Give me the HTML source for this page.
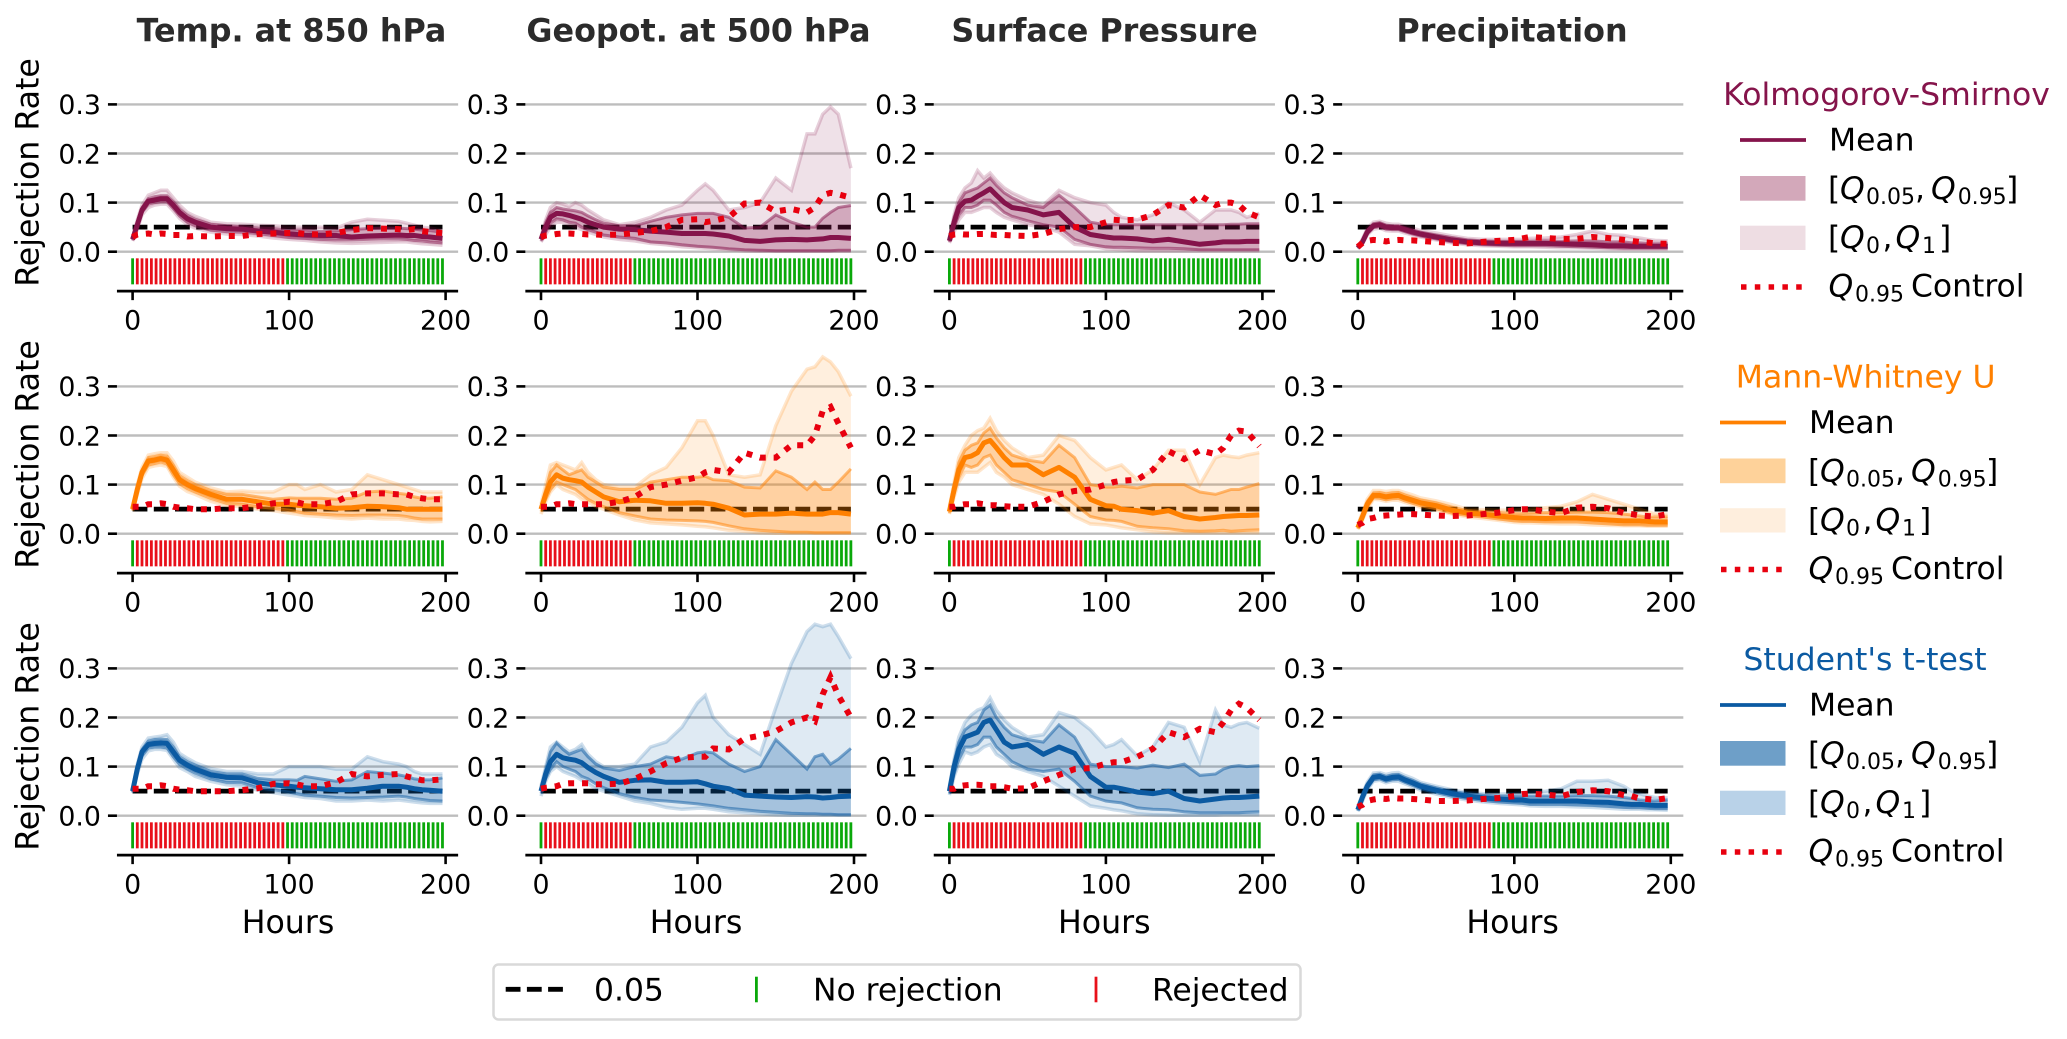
<!DOCTYPE html>
<html lang="en">
<head>
<meta charset="utf-8">
<title>Rejection rates by hour</title>
<style>
html,body{margin:0;padding:0;background:#fff;}
svg{display:block;}
text{font-family:"DejaVu Sans","Liberation Sans",sans-serif;fill:#000;}
.tick{font-size:26.8px;}
.axis-title{font-size:31.6px;text-anchor:middle;}
.col-title{font-size:31.8px;font-weight:bold;text-anchor:middle;fill:#2b2b2b;}
.lg-title{font-size:31.5px;text-anchor:middle;}
.lg{font-size:31.4px;}
.it{font-style:italic;}
.sub{font-size:22px;}
</style>
</head>
<body>
<svg id="chart" xmlns="http://www.w3.org/2000/svg" width="2067" height="1039" viewBox="0 0 2067 1039">
<rect x="0" y="0" width="2067" height="1039" fill="#fff"/>
<g id="plots"></g>

<text class="col-title" x="291.5" y="41.5">Temp. at 850 hPa</text>
<text class="col-title" x="698.5" y="41.5">Geopot. at 500 hPa</text>
<text class="col-title" x="1104.5" y="41.5">Surface Pressure</text>
<text class="col-title" x="1512" y="41.5">Precipitation</text>

<text class="axis-title" transform="translate(38.5 172.5) rotate(-90)">Rejection Rate</text>
<text class="axis-title" transform="translate(38.5 454.5) rotate(-90)">Rejection Rate</text>
<text class="axis-title" transform="translate(38.5 736.5) rotate(-90)">Rejection Rate</text>

<text class="axis-title" x="288" y="933">Hours</text>
<text class="axis-title" x="696" y="933">Hours</text>
<text class="axis-title" x="1104.3" y="933">Hours</text>
<text class="axis-title" x="1512.6" y="933">Hours</text>

<!-- Kolmogorov-Smirnov legend -->
<g>
  <text class="lg-title" x="1886.5" y="105" style="fill:#85144b">Kolmogorov-Smirnov</text>
  <line x1="1740" x2="1806" y1="140" y2="140" stroke="#85144b" stroke-width="3.8"/>
  <text class="lg" x="1829" y="150.5">Mean</text>
  <rect x="1740" y="176" width="65.5" height="24.7" fill="#d3a8ba"/>
  <text class="lg" y="199"><tspan x="1828">[</tspan><tspan class="it" x="1840">Q</tspan><tspan class="sub" x="1866" dy="5">0.05</tspan><tspan x="1915" dy="-5">,</tspan><tspan class="it" x="1931">Q</tspan><tspan class="sub" x="1957.7" dy="5">0.95</tspan><tspan x="2006" dy="-5">]</tspan></text>
  <rect x="1740" y="225.7" width="65.5" height="24.3" fill="#eedde3"/>
  <text class="lg" y="248"><tspan x="1828">[</tspan><tspan class="it" x="1840">Q</tspan><tspan class="sub" x="1866" dy="5">0</tspan><tspan x="1882.5" dy="-5">,</tspan><tspan class="it" x="1895.5">Q</tspan><tspan class="sub" x="1922" dy="5">1</tspan><tspan x="1939" dy="-5">]</tspan></text>
  <line x1="1741" x2="1805" y1="287" y2="287" stroke="#e8000f" stroke-width="5.5" stroke-dasharray="5.5 8.3"/>
  <text class="lg" y="296.5"><tspan class="it" x="1828.5">Q</tspan><tspan class="sub" x="1855" dy="5">0.95</tspan><tspan x="1911" dy="-5">Control</tspan></text>
</g>

<!-- Mann-Whitney legend -->
<g transform="translate(-20 282.5)">
  <text class="lg-title" x="1885.7" y="105" style="fill:#ff8000">Mann-Whitney U</text>
  <line x1="1740" x2="1806" y1="140" y2="140" stroke="#ff8000" stroke-width="3.8"/>
  <text class="lg" x="1829" y="150.5">Mean</text>
  <rect x="1740" y="176" width="65.5" height="24.7" fill="#fed29a"/>
  <text class="lg" y="199"><tspan x="1828">[</tspan><tspan class="it" x="1840">Q</tspan><tspan class="sub" x="1866" dy="5">0.05</tspan><tspan x="1915" dy="-5">,</tspan><tspan class="it" x="1931">Q</tspan><tspan class="sub" x="1957.7" dy="5">0.95</tspan><tspan x="2006" dy="-5">]</tspan></text>
  <rect x="1740" y="225.7" width="65.5" height="24.3" fill="#feeedd"/>
  <text class="lg" y="248"><tspan x="1828">[</tspan><tspan class="it" x="1840">Q</tspan><tspan class="sub" x="1866" dy="5">0</tspan><tspan x="1882.5" dy="-5">,</tspan><tspan class="it" x="1895.5">Q</tspan><tspan class="sub" x="1922" dy="5">1</tspan><tspan x="1939" dy="-5">]</tspan></text>
  <line x1="1741" x2="1805" y1="287" y2="287" stroke="#e8000f" stroke-width="5.5" stroke-dasharray="5.5 8.3"/>
  <text class="lg" y="296.5"><tspan class="it" x="1828.5">Q</tspan><tspan class="sub" x="1855" dy="5">0.95</tspan><tspan x="1911" dy="-5">Control</tspan></text>
</g>

<!-- Student's t-test legend -->
<g transform="translate(-20 565)">
  <text class="lg-title" x="1885" y="105" style="fill:#0b5aa2">Student's t-test</text>
  <line x1="1740" x2="1806" y1="140" y2="140" stroke="#0b5aa2" stroke-width="3.8"/>
  <text class="lg" x="1829" y="150.5">Mean</text>
  <rect x="1740" y="176" width="65.5" height="24.7" fill="#6e9fc8"/>
  <text class="lg" y="199"><tspan x="1828">[</tspan><tspan class="it" x="1840">Q</tspan><tspan class="sub" x="1866" dy="5">0.05</tspan><tspan x="1915" dy="-5">,</tspan><tspan class="it" x="1931">Q</tspan><tspan class="sub" x="1957.7" dy="5">0.95</tspan><tspan x="2006" dy="-5">]</tspan></text>
  <rect x="1740" y="225.7" width="65.5" height="24.3" fill="#b9d2e8"/>
  <text class="lg" y="248"><tspan x="1828">[</tspan><tspan class="it" x="1840">Q</tspan><tspan class="sub" x="1866" dy="5">0</tspan><tspan x="1882.5" dy="-5">,</tspan><tspan class="it" x="1895.5">Q</tspan><tspan class="sub" x="1922" dy="5">1</tspan><tspan x="1939" dy="-5">]</tspan></text>
  <line x1="1741" x2="1805" y1="287" y2="287" stroke="#e8000f" stroke-width="5.5" stroke-dasharray="5.5 8.3"/>
  <text class="lg" y="296.5"><tspan class="it" x="1828.5">Q</tspan><tspan class="sub" x="1855" dy="5">0.95</tspan><tspan x="1911" dy="-5">Control</tspan></text>
</g>

<!-- Bottom legend -->
<g>
  <rect x="493.5" y="964.5" width="807" height="55" rx="5" ry="5" fill="#fff" stroke="#d9d9d9" stroke-width="2.5"/>
  <line x1="505.7" x2="568.4" y1="989.3" y2="989.3" stroke="#000" stroke-width="4.8" stroke-dasharray="14.8 6.4"/>
  <text class="lg" x="594" y="1000.7">0.05</text>
  <line x1="756.4" x2="756.4" y1="976.7" y2="1002.3" stroke="#0aa80a" stroke-width="2.8"/>
  <text class="lg" x="813" y="1000.7">No rejection</text>
  <line x1="1096" x2="1096" y1="976.7" y2="1002.3" stroke="#e8101a" stroke-width="2.8"/>
  <text class="lg" x="1152" y="1000.7">Rejected</text>
</g>
</svg>

<script>
/* ---------- shared axes data ---------- */
const hours = [0,3,6,10,14,18,22,26,30,35,40,50,60,70,80,90,100,105,110,120,130,140,150,160,170,175,180,185,190,198];
const xTicks = [0,100,200];
const yTicks = [0,0.1,0.2,0.3];
const yTickLabels = ['0.0','0.1','0.2','0.3'];
const thresholdLevel = 0.05;
const lastRejectedHour = [96,57,84,84];
const barStepHours = 3;
const lastBarHour = 198;

/* ---------- Kolmogorov-Smirnov ---------- */
const ksTempMean = [.025,.055,.085,.103,.105,.108,.108,.095,.08,.067,.06,.05,.047,.046,.042,.04,.036,.035,.034,.033,.033,.03,.032,.033,.034,.033,.033,.031,.03,.027];
const ksTempQ95 = [.028,.06,.09,.108,.112,.114,.114,.102,.087,.074,.066,.056,.053,.051,.048,.047,.043,.044,.044,.041,.042,.045,.047,.048,.048,.047,.046,.044,.043,.04];
const ksTempQ05 = [.023,.05,.08,.097,.1,.102,.102,.088,.073,.06,.053,.044,.041,.04,.037,.033,.029,.028,.027,.025,.024,.024,.025,.026,.026,.025,.023,.022,.02,.018];
const ksTempMax = [.03,.065,.095,.115,.12,.125,.125,.11,.095,.08,.072,.06,.057,.056,.054,.053,.05,.05,.05,.05,.048,.06,.066,.064,.062,.058,.054,.05,.048,.044];
const ksTempMin = [.022,.045,.075,.09,.095,.097,.097,.083,.068,.055,.048,.04,.036,.035,.032,.028,.025,.024,.023,.02,.018,.017,.018,.019,.02,.02,.018,.016,.015,.013];
const ksTempControl = [.03,.035,.036,.037,.035,.037,.036,.034,.034,.031,.032,.031,.032,.032,.036,.037,.038,.038,.036,.035,.038,.044,.048,.047,.046,.044,.046,.042,.04,.038];

const ksGeoMean = [.025,.05,.07,.078,.077,.074,.07,.066,.06,.055,.05,.046,.045,.042,.04,.037,.037,.037,.036,.032,.023,.021,.024,.025,.024,.025,.026,.029,.029,.027];
const ksGeoQ95 = [.03,.06,.08,.09,.087,.085,.083,.08,.073,.065,.058,.053,.053,.062,.07,.075,.078,.078,.078,.07,.048,.05,.075,.06,.05,.05,.068,.08,.09,.094];
const ksGeoQ05 = [.022,.04,.058,.067,.065,.06,.058,.05,.045,.04,.034,.03,.027,.02,.018,.014,.011,.01,.009,.006,.004,.003,.002,.002,.002,.002,.002,.002,.003,.003];
const ksGeoMax = [.03,.065,.09,.1,.097,.092,.1,.095,.085,.075,.065,.055,.06,.07,.085,.095,.125,.138,.125,.085,.09,.1,.15,.125,.24,.24,.28,.295,.28,.17];
const ksGeoMin = [.02,.035,.05,.06,.06,.055,.05,.045,.04,.035,.03,.025,.022,.017,.014,.01,.008,.007,.006,.004,.002,.001,.001,.001,.001,.001,.001,.001,.001,.001];
const ksGeoControl = [.03,.033,.034,.036,.037,.037,.036,.036,.035,.035,.034,.035,.038,.042,.05,.065,.066,.06,.063,.07,.098,.1,.082,.087,.08,.09,.115,.12,.117,.11];

const ksPresMean = [.022,.06,.09,.103,.105,.113,.12,.128,.115,.1,.09,.085,.075,.08,.05,.035,.03,.028,.028,.026,.022,.025,.02,.015,.018,.02,.02,.02,.021,.021];
const ksPresQ95 = [.025,.07,.1,.12,.125,.13,.14,.15,.135,.12,.11,.095,.09,.115,.09,.06,.055,.055,.055,.055,.055,.055,.055,.055,.055,.055,.056,.056,.057,.057];
const ksPresQ05 = [.02,.05,.075,.09,.09,.095,.105,.105,.095,.08,.072,.063,.055,.05,.025,.015,.01,.009,.009,.008,.007,.007,.006,.004,.004,.004,.004,.004,.004,.004];
const ksPresMax = [.028,.075,.11,.13,.14,.165,.15,.16,.145,.13,.12,.105,.095,.125,.11,.1,.095,.08,.07,.065,.075,.1,.085,.06,.085,.085,.085,.08,.07,.078];
const ksPresMin = [.018,.04,.065,.08,.08,.085,.09,.09,.08,.07,.065,.055,.05,.04,.015,.012,.006,.005,.004,.002,.002,.002,.002,.002,.002,.002,.002,.002,.002,.002];
const ksPresControl = [.032,.035,.036,.035,.035,.036,.036,.035,.034,.034,.033,.032,.036,.046,.05,.05,.06,.065,.064,.065,.075,.095,.09,.115,.095,.1,.1,.095,.08,.07];

const ksPrecMean = [.008,.02,.04,.053,.055,.05,.049,.049,.045,.04,.036,.03,.024,.02,.018,.017,.017,.017,.017,.017,.016,.015,.014,.012,.012,.011,.011,.011,.011,.011];
const ksPrecQ95 = [.01,.024,.044,.057,.059,.054,.053,.053,.049,.044,.04,.034,.029,.024,.022,.021,.021,.021,.021,.022,.021,.022,.022,.02,.02,.018,.018,.017,.016,.016];
const ksPrecQ05 = [.007,.018,.036,.049,.051,.046,.045,.045,.041,.036,.032,.026,.02,.016,.014,.013,.012,.012,.012,.012,.011,.01,.009,.008,.007,.007,.007,.007,.007,.007];
const ksPrecMax = [.01,.026,.048,.06,.062,.058,.056,.056,.052,.048,.043,.038,.032,.027,.025,.025,.025,.025,.027,.028,.03,.035,.042,.035,.033,.03,.028,.025,.023,.022];
const ksPrecMin = [.006,.016,.034,.046,.048,.043,.042,.042,.038,.034,.03,.024,.018,.014,.012,.011,.01,.01,.01,.009,.008,.008,.007,.006,.005,.005,.005,.005,.005,.005];
const ksPrecControl = [.01,.018,.022,.024,.023,.021,.023,.024,.023,.023,.022,.02,.018,.017,.02,.022,.024,.027,.03,.028,.026,.026,.03,.028,.024,.022,.02,.019,.017,.016];

/* ---------- Mann-Whitney U ---------- */
const mwTempMean = [.05,.09,.125,.148,.15,.153,.15,.13,.11,.1,.092,.08,.07,.07,.065,.06,.06,.058,.057,.055,.052,.053,.056,.055,.053,.05,.05,.05,.05,.05];
const mwTempQ95 = [.052,.095,.13,.155,.157,.16,.158,.14,.118,.108,.1,.088,.08,.08,.075,.07,.073,.072,.072,.072,.07,.072,.085,.087,.082,.08,.075,.072,.072,.075];
const mwTempQ05 = [.048,.085,.118,.14,.143,.146,.142,.12,.102,.092,.085,.072,.062,.06,.055,.052,.048,.045,.042,.04,.038,.037,.038,.038,.037,.035,.032,.03,.03,.03];
const mwTempMax = [.055,.1,.135,.16,.163,.165,.165,.148,.125,.115,.105,.093,.085,.087,.085,.085,.1,.1,.09,.1,.085,.09,.12,.11,.1,.095,.09,.085,.085,.085];
const mwTempMin = [.046,.08,.112,.135,.138,.14,.137,.115,.097,.086,.08,.066,.057,.055,.05,.047,.042,.04,.037,.035,.032,.03,.032,.03,.03,.028,.027,.025,.024,.025];
const mwTempControl = [.055,.055,.055,.06,.06,.062,.06,.055,.053,.052,.05,.05,.052,.052,.056,.062,.065,.064,.06,.06,.065,.08,.082,.082,.08,.08,.075,.072,.07,.07];

const mwGeoMean = [.05,.08,.105,.12,.113,.11,.108,.105,.095,.085,.075,.065,.068,.067,.062,.062,.063,.062,.06,.052,.038,.04,.04,.042,.04,.04,.04,.043,.043,.04];
const mwGeoQ95 = [.055,.09,.125,.14,.13,.12,.125,.13,.115,.105,.095,.09,.09,.105,.11,.115,.115,.117,.11,.108,.095,.093,.128,.115,.09,.105,.09,.09,.105,.132];
const mwGeoQ05 = [.045,.07,.09,.105,.1,.095,.09,.08,.07,.062,.055,.043,.036,.03,.028,.027,.026,.025,.023,.016,.01,.007,.005,.003,.003,.002,.002,.002,.002,.002];
const mwGeoMax = [.06,.1,.14,.145,.14,.135,.13,.145,.125,.11,.1,.095,.095,.12,.135,.175,.23,.23,.2,.12,.115,.12,.22,.29,.335,.34,.36,.35,.33,.28];
const mwGeoMin = [.04,.065,.085,.1,.09,.085,.08,.07,.065,.055,.05,.038,.028,.022,.02,.018,.015,.014,.012,.007,.005,.002,.001,.001,.001,.001,.001,.001,.001,.001];
const mwGeoControl = [.055,.055,.055,.06,.06,.062,.06,.06,.06,.06,.06,.065,.075,.095,.1,.108,.115,.125,.13,.125,.165,.155,.155,.18,.18,.2,.25,.258,.225,.175];

const mwPresMean = [.045,.09,.13,.155,.158,.165,.185,.19,.175,.155,.14,.14,.12,.135,.115,.07,.057,.056,.05,.047,.042,.047,.035,.03,.033,.035,.036,.037,.037,.038];
const mwPresQ95 = [.05,.1,.145,.17,.18,.185,.205,.215,.195,.175,.16,.15,.145,.18,.155,.1,.095,.095,.097,.093,.1,.1,.1,.085,.08,.085,.09,.09,.095,.102];
const mwPresQ05 = [.042,.08,.115,.14,.135,.14,.155,.16,.14,.125,.11,.1,.09,.085,.06,.035,.028,.027,.025,.015,.012,.01,.006,.005,.006,.007,.005,.006,.007,.008];
const mwPresMax = [.055,.105,.155,.18,.2,.21,.215,.235,.21,.19,.175,.155,.16,.2,.19,.155,.13,.135,.14,.11,.13,.17,.17,.1,.155,.16,.157,.155,.16,.165];
const mwPresMin = [.04,.075,.105,.125,.125,.125,.135,.145,.125,.115,.1,.09,.08,.06,.035,.02,.018,.015,.012,.008,.004,.002,.002,.002,.002,.002,.002,.002,.002,.002];
const mwPresControl = [.055,.055,.058,.06,.06,.062,.06,.058,.058,.056,.055,.055,.065,.08,.087,.09,.1,.105,.108,.11,.13,.168,.152,.17,.162,.175,.2,.21,.208,.178];

const mwPrecMean = [.012,.035,.06,.078,.078,.075,.077,.078,.073,.068,.063,.057,.048,.042,.04,.036,.033,.032,.032,.031,.032,.032,.03,.028,.026,.026,.026,.025,.024,.024];
const mwPrecQ95 = [.016,.04,.066,.083,.084,.081,.083,.084,.079,.074,.069,.063,.054,.047,.045,.043,.041,.041,.042,.043,.043,.044,.044,.043,.04,.038,.036,.034,.034,.034];
const mwPrecQ05 = [.01,.03,.054,.073,.072,.069,.071,.072,.067,.062,.057,.051,.042,.037,.034,.03,.026,.025,.025,.024,.024,.024,.022,.02,.018,.018,.018,.017,.017,.017];
const mwPrecMax = [.018,.044,.07,.088,.088,.086,.088,.088,.084,.079,.073,.067,.059,.05,.049,.048,.048,.049,.05,.053,.056,.065,.08,.07,.06,.055,.05,.045,.04,.04];
const mwPrecMin = [.009,.028,.05,.07,.069,.066,.068,.068,.064,.059,.054,.048,.04,.034,.031,.027,.023,.022,.022,.021,.02,.02,.018,.017,.016,.016,.016,.015,.015,.015];
const mwPrecControl = [.018,.022,.03,.032,.036,.037,.038,.039,.04,.04,.039,.037,.036,.037,.04,.043,.048,.05,.05,.045,.042,.053,.055,.052,.042,.04,.037,.036,.035,.04];

/* ---------- Student's t-test ---------- */
const tTempMean = [.05,.095,.13,.145,.147,.148,.147,.13,.113,.103,.095,.083,.078,.077,.067,.063,.06,.058,.057,.055,.053,.053,.056,.06,.06,.058,.055,.053,.052,.05];
const tTempQ95 = [.052,.1,.135,.152,.155,.156,.155,.14,.12,.11,.103,.09,.085,.085,.076,.073,.073,.072,.08,.075,.07,.073,.09,.087,.083,.08,.075,.073,.073,.077];
const tTempQ05 = [.048,.09,.122,.138,.14,.14,.138,.12,.105,.095,.087,.075,.068,.067,.057,.053,.048,.045,.042,.04,.037,.036,.037,.038,.04,.038,.035,.033,.031,.03];
const tTempMax = [.055,.105,.14,.158,.16,.162,.165,.15,.127,.117,.108,.096,.09,.09,.085,.085,.1,.1,.1,.1,.095,.095,.12,.11,.105,.1,.09,.085,.085,.085];
const tTempMin = [.046,.085,.115,.132,.135,.135,.133,.115,.098,.09,.08,.07,.063,.06,.052,.047,.042,.04,.037,.035,.03,.03,.032,.03,.032,.03,.028,.026,.025,.025];
const tTempControl = [.055,.055,.055,.06,.06,.062,.06,.055,.053,.052,.05,.05,.05,.052,.056,.065,.066,.064,.06,.06,.068,.085,.08,.083,.085,.08,.076,.072,.072,.074];

const tGeoMean = [.05,.085,.11,.125,.118,.115,.113,.108,.098,.088,.08,.068,.072,.073,.068,.068,.069,.065,.06,.055,.042,.04,.038,.037,.039,.038,.036,.037,.039,.04];
const tGeoQ95 = [.055,.095,.13,.148,.135,.125,.13,.135,.12,.105,.097,.092,.1,.105,.12,.115,.128,.13,.128,.105,.09,.1,.155,.125,.095,.12,.125,.105,.115,.137];
const tGeoQ05 = [.045,.075,.095,.11,.1,.095,.09,.08,.075,.065,.057,.045,.037,.032,.03,.027,.024,.022,.02,.015,.012,.009,.007,.005,.004,.004,.003,.003,.002,.002];
const tGeoMax = [.06,.1,.14,.15,.14,.13,.135,.145,.125,.11,.1,.1,.105,.14,.15,.18,.23,.245,.2,.165,.145,.125,.22,.31,.375,.39,.385,.39,.365,.32];
const tGeoMin = [.04,.07,.09,.1,.09,.085,.08,.072,.065,.055,.05,.04,.03,.025,.017,.013,.015,.015,.013,.008,.006,.004,.002,.001,.001,.001,.001,.001,.001,.001];
const tGeoControl = [.055,.057,.058,.06,.065,.066,.066,.066,.066,.064,.064,.065,.075,.09,.107,.118,.12,.12,.137,.135,.157,.163,.172,.19,.2,.192,.247,.282,.245,.2];

const tPresMean = [.05,.1,.135,.16,.165,.17,.19,.195,.175,.15,.14,.145,.125,.14,.127,.08,.058,.058,.055,.048,.045,.05,.035,.03,.034,.036,.037,.037,.038,.04];
const tPresQ95 = [.055,.11,.15,.175,.185,.19,.215,.225,.2,.18,.165,.155,.15,.185,.16,.105,.1,.1,.1,.097,.103,.098,.105,.082,.085,.095,.1,.102,.1,.102];
const tPresQ05 = [.045,.085,.115,.14,.14,.145,.16,.16,.14,.125,.11,.095,.09,.095,.07,.04,.03,.028,.026,.016,.013,.012,.008,.006,.006,.006,.006,.006,.007,.008];
const tPresMax = [.06,.115,.16,.19,.205,.215,.22,.24,.215,.195,.18,.16,.165,.21,.2,.175,.14,.145,.155,.122,.14,.19,.18,.11,.215,.185,.18,.187,.19,.178];
const tPresMin = [.042,.08,.105,.13,.125,.13,.14,.145,.125,.115,.1,.09,.08,.06,.04,.02,.015,.012,.01,.004,.002,.001,.001,.001,.001,.002,.002,.002,.002,.002];
const tPresControl = [.055,.055,.06,.062,.063,.063,.062,.06,.06,.058,.055,.056,.07,.083,.095,.097,.106,.109,.109,.12,.136,.17,.16,.177,.17,.19,.215,.228,.22,.195];

const tPrecMean = [.012,.038,.06,.078,.08,.075,.078,.079,.073,.067,.06,.052,.045,.04,.036,.034,.032,.032,.03,.03,.03,.03,.028,.027,.024,.023,.023,.022,.021,.021];
const tPrecQ95 = [.016,.042,.065,.083,.085,.08,.083,.084,.078,.072,.065,.057,.05,.045,.042,.04,.04,.04,.04,.04,.04,.041,.041,.04,.037,.035,.032,.031,.03,.032];
const tPrecQ05 = [.01,.034,.055,.073,.075,.07,.073,.074,.068,.062,.055,.047,.04,.035,.031,.028,.026,.025,.023,.023,.023,.022,.021,.019,.017,.016,.016,.015,.014,.014];
const tPrecMax = [.018,.045,.068,.087,.088,.084,.087,.088,.082,.076,.068,.06,.053,.047,.045,.044,.045,.046,.048,.05,.055,.07,.07,.072,.06,.05,.045,.04,.037,.036];
const tPrecMin = [.009,.03,.052,.07,.072,.067,.07,.07,.065,.059,.052,.044,.037,.032,.028,.025,.023,.022,.02,.019,.019,.018,.017,.015,.013,.013,.013,.012,.012,.011];
const tPrecControl = [.018,.022,.03,.033,.035,.034,.036,.035,.035,.034,.033,.03,.03,.031,.034,.036,.04,.044,.045,.043,.04,.048,.052,.05,.042,.04,.035,.034,.032,.036];

/* ---------- layout and rendering ---------- */
const testNames = ['ks','mw','t'];
const varNames = ['temp','geopot','pressure','precip'];
const testColors = ['#85144b','#ff8000','#0b5aa2'];
const panelData = [
  [[ksTempMean,ksTempQ95,ksTempQ05,ksTempMax,ksTempMin,ksTempControl],[ksGeoMean,ksGeoQ95,ksGeoQ05,ksGeoMax,ksGeoMin,ksGeoControl],[ksPresMean,ksPresQ95,ksPresQ05,ksPresMax,ksPresMin,ksPresControl],[ksPrecMean,ksPrecQ95,ksPrecQ05,ksPrecMax,ksPrecMin,ksPrecControl]],
  [[mwTempMean,mwTempQ95,mwTempQ05,mwTempMax,mwTempMin,mwTempControl],[mwGeoMean,mwGeoQ95,mwGeoQ05,mwGeoMax,mwGeoMin,mwGeoControl],[mwPresMean,mwPresQ95,mwPresQ05,mwPresMax,mwPresMin,mwPresControl],[mwPrecMean,mwPrecQ95,mwPrecQ05,mwPrecMax,mwPrecMin,mwPrecControl]],
  [[tTempMean,tTempQ95,tTempQ05,tTempMax,tTempMin,tTempControl],[tGeoMean,tGeoQ95,tGeoQ05,tGeoMax,tGeoMin,tGeoControl],[tPresMean,tPresQ95,tPresQ05,tPresMax,tPresMin,tPresControl],[tPrecMean,tPrecQ95,tPrecQ05,tPrecMax,tPrecMin,tPrecControl]]
];

const SVG_NS = 'http://www.w3.org/2000/svg';
const root = document.getElementById('plots');

function make(parent, tag, attrs) {
  const el = document.createElementNS(SVG_NS, tag);
  for (const k in attrs) el.setAttribute(k, attrs[k]);
  parent.appendChild(el);
  return el;
}

function xScale(col, hour) { return 132.6 + col * 408.4 + hour * 1.565; }
function yScale(row, value) { return 251.7 + row * 282 - value * 491; }

function linePath(row, col, values) {
  return values.map((v, i) => (i ? 'L' : 'M') + xScale(col, hours[i]).toFixed(1) + ' ' + yScale(row, v).toFixed(1)).join('');
}
function bandPath(row, col, upper, lower) {
  let d = linePath(row, col, upper);
  for (let i = lower.length - 1; i >= 0; i--) {
    d += 'L' + xScale(col, hours[i]).toFixed(1) + ' ' + yScale(row, lower[i]).toFixed(1);
  }
  return d + 'Z';
}

function drawPanel(row, col) {
  const [mean, q95, q05, qMax, qMin, control] = panelData[row][col];
  const color = testColors[row];
  const prefix = testNames[row] + '-' + varNames[col];
  const g = make(root, 'g', {});
  
  

  const axisLeft = xScale(col, -10);
  const axisRight = xScale(col, 208);
  const axisY = yScale(row, -0.0803);

  yTicks.forEach((t, i) => {
    const y = yScale(row, t);
    const grid = make(g, 'line', {x1: axisLeft, x2: axisRight, y1: y, y2: y, stroke: '#bdbdbd', 'stroke-width': 2.4});
    
    
    const tick = make(g, 'line', {x1: axisLeft - 9, x2: axisLeft, y1: y, y2: y, stroke: '#000', 'stroke-width': 2.6});
    
    
    const label = make(g, 'text', {x: axisLeft - 16, y: y + 9.8, 'text-anchor': 'end', class: 'tick'});
    
    
    label.textContent = yTickLabels[i];
  });

  const thresholdY = yScale(row, thresholdLevel);
  const threshold = make(g, 'line', {x1: xScale(col, 0), x2: xScale(col, 198), y1: thresholdY, y2: thresholdY, stroke: '#000', 'stroke-width': 4.8, 'stroke-dasharray': '14.8 6.4'});
  
  

  const bandOuter = make(g, 'path', {d: bandPath(row, col, qMax, qMin), fill: color, 'fill-opacity': 0.13, stroke: 'none'});
  
  
  [qMax, qMin].forEach((vals) => {
    const edge = make(g, 'path', {d: linePath(row, col, vals), fill: 'none', stroke: color, 'stroke-opacity': 0.2, 'stroke-width': 3.5});
    
    
  });

  const bandInner = make(g, 'path', {d: bandPath(row, col, q95, q05), fill: color, 'fill-opacity': 0.27, stroke: 'none'});
  
  
  [q95, q05].forEach((vals) => {
    const edge = make(g, 'path', {d: linePath(row, col, vals), fill: 'none', stroke: color, 'stroke-opacity': 0.5, 'stroke-width': 3});
    
    
  });

  const meanLine = make(g, 'path', {d: linePath(row, col, mean), fill: 'none', stroke: color, 'stroke-width': 5, 'stroke-linejoin': 'round'});
  
  

  const controlLine = make(g, 'path', {d: linePath(row, col, control), fill: 'none', stroke: '#e8000f', 'stroke-width': 6, 'stroke-dasharray': '6 7.9'});
  
  

  const barTop = yScale(row, -0.0135);
  const barBottom = yScale(row, -0.0665);
  for (let h = 0; h <= lastBarHour; h += barStepHours) {
    const rejected = h > 0 && h <= lastRejectedHour[col];
    const bar = make(g, 'line', {x1: xScale(col, h), x2: xScale(col, h), y1: barTop, y2: barBottom, stroke: rejected ? '#e8101a' : '#0aa80a', 'stroke-width': 2.8});
    
    
  }

  const spine = make(g, 'line', {x1: axisLeft, x2: axisRight, y1: axisY, y2: axisY, stroke: '#000', 'stroke-width': 2.8});
  
  
  xTicks.forEach((t) => {
    const x = xScale(col, t);
    const tick = make(g, 'line', {x1: x, x2: x, y1: axisY, y2: axisY + 9, stroke: '#000', 'stroke-width': 2.6});
    
    
    const label = make(g, 'text', {x: x, y: axisY + 38.5, 'text-anchor': 'middle', class: 'tick'});
    
    
    label.textContent = String(t);
  });
}

for (let r = 0; r < 3; r++) {
  for (let c = 0; c < 4; c++) {
    drawPanel(r, c);
  }
}
</script>
</body>
</html>
